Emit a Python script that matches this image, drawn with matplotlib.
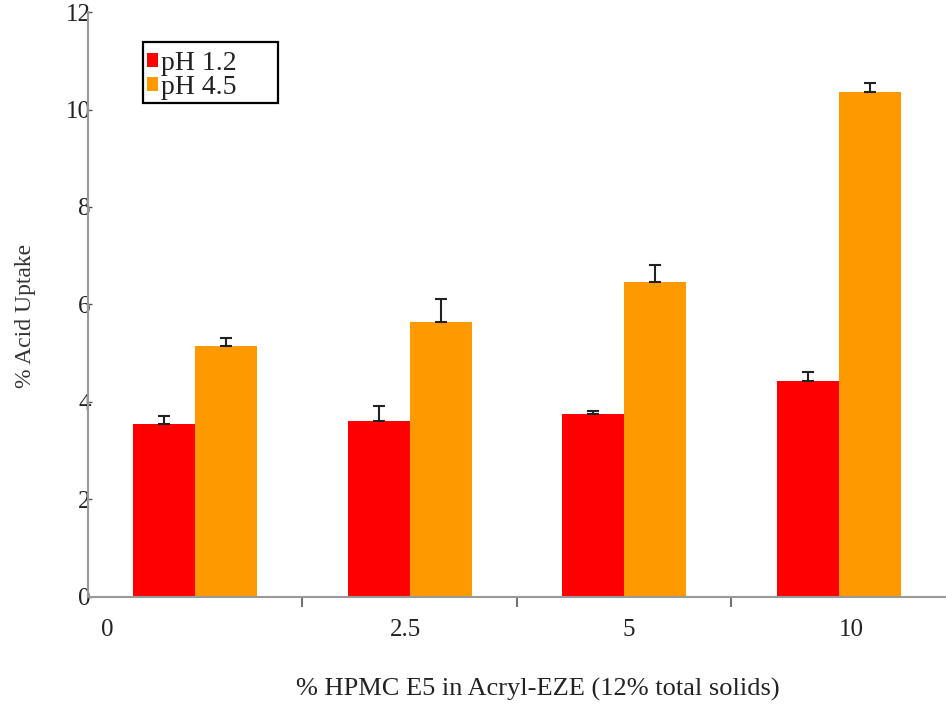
import numpy as np
import matplotlib.pyplot as plt
from matplotlib.patches import Rectangle

# Data
hpmc_levels = ["0", "2.5", "5", "10"]
uptake_ph12 = [3.55, 3.61, 3.75, 4.43]
err_ph12 = [0.16, 0.31, 0.07, 0.19]
uptake_ph45 = [5.15, 5.64, 6.46, 10.36]
err_ph45 = [0.16, 0.47, 0.35, 0.18]

plt.rcParams['font.family'] = ['Liberation Serif', 'DejaVu Serif']

fig = plt.figure(figsize=(9.46, 7.08), dpi=100)
ax = fig.add_axes([0.093, 0.157, 0.907, 0.826])

x = np.arange(len(hpmc_levels))
w = 0.29
err_kw = dict(ecolor='#222222', elinewidth=1.5, capsize=4, capthick=1.5)
ax.bar(x - w / 2, uptake_ph12, w, yerr=[np.zeros(4), err_ph12],
       color='#ff0000', label='pH 1.2', error_kw=err_kw)
ax.bar(x + w / 2, uptake_ph45, w, yerr=[np.zeros(4), err_ph45],
       color='#ff9900', label='pH 4.5', error_kw=err_kw)

# Axes
ax.set_xlim(-0.5, 3.5)
ax.set_ylim(0, 12)
ax.set_yticks(range(0, 13, 2))
ax.tick_params(axis='y', length=3, width=1, colors='#555555', labelcolor='#222222',
               labelsize=18, pad=-2, direction='in')
ax.set_xticks(x[:-1] + 0.5)
ax.set_xticklabels([])
ax.tick_params(axis='x', which='major', length=7, width=1.2, color='#555555')
ax.set_xticks([-0.41, 0.98, 2.02, 3.06], minor=True)
ax.set_xticklabels(hpmc_levels, minor=True)
ax.tick_params(axis='x', which='minor', length=0, labelsize=18, pad=16,
               labelcolor='#222222')

for side in ['top', 'right']:
    ax.spines[side].set_visible(False)
for side in ['left', 'bottom']:
    ax.spines[side].set_color('#999999')
    ax.spines[side].set_linewidth(1.5)

ax.set_ylabel('% Acid Uptake', fontsize=17, color='#333333')
ax.yaxis.set_label_coords(-0.06, 0.48)
ax.set_xlabel('% HPMC E5 in Acryl-EZE (12% total solids)', fontsize=19,
              color='#222222')
ax.xaxis.set_label_coords(0.524, -0.138)

# Legend with a wide hand-drawn frame
leg = fig.legend(loc='upper left', bbox_to_anchor=(0.155, 0.928), fontsize=20,
                 frameon=False, handlelength=0.4, handleheight=0.4,
                 handletextpad=0.1, labelspacing=-0.05, borderpad=0,
                 borderaxespad=0)
for t in leg.get_texts():
    t.set_color('#222222')
fig.patches.append(Rectangle((0.151, 0.855), 0.143, 0.086, transform=fig.transFigure,
                             fill=False, edgecolor='black', linewidth=1.6))

plt.savefig('out.png', dpi=100)
